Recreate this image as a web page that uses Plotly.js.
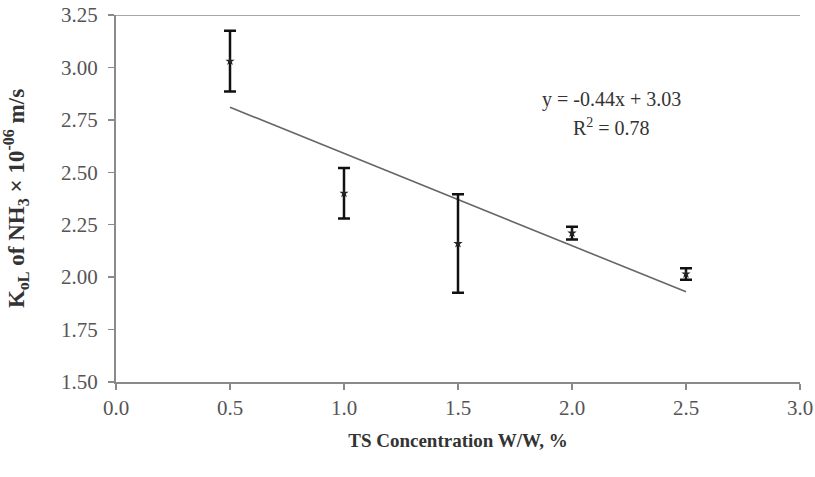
<!DOCTYPE html>
<html>
<head>
<meta charset="utf-8">
<script src="https://cdn.plot.ly/plotly-3.0.1.min.js"></script>
<style>
  html, body { margin: 0; padding: 0; background: #fff; }
  #chart { width: 815px; height: 477px; }
</style>
</head>
<body>
<div id="chart"></div>
<script>
// TS concentration (% W/W) and measured KoL of NH3 (x 10^-6 m/s)
const tsConcentration = [0.5, 1.0, 1.5, 2.0, 2.5];
const kolMean = [3.03, 2.40, 2.16, 2.21, 2.015];
const kolError = [0.145, 0.12, 0.235, 0.03, 0.028];

// Linear fit shown on the chart
const fitSlope = -0.44;
const fitIntercept = 3.03;
const fitR2 = 0.78;
const fitRange = [0.5, 2.5];

const xTicks = [0, 0.5, 1.0, 1.5, 2.0, 2.5, 3.0];
const yTicks = [1.5, 1.75, 2.0, 2.25, 2.5, 2.75, 3.0, 3.25];

const serif = 'Liberation Serif, Times New Roman, serif';

const measured = {
  x: tsConcentration,
  y: kolMean,
  type: 'scatter',
  mode: 'markers',
  marker: { symbol: 'star', size: 7, color: '#222' },
  error_y: { type: 'data', array: kolError, visible: true, color: '#111', thickness: 2.5, width: 6 },
  showlegend: false,
  hoverinfo: 'x+y'
};

const trend = {
  x: fitRange,
  y: fitRange.map(v => fitSlope * v + fitIntercept),
  type: 'scatter',
  mode: 'lines',
  line: { color: '#666', width: 1.6 },
  showlegend: false,
  hoverinfo: 'skip'
};

const layout = {
  width: 815,
  height: 477,
  margin: { l: 116, r: 15, t: 15, b: 95 },
  paper_bgcolor: '#fff',
  plot_bgcolor: '#fff',
  font: { family: serif, color: '#333', size: 20 },
  xaxis: {
    range: [0, 3],
    tickvals: xTicks,
    tickformat: '.1f',
    showgrid: false,
    zeroline: false,
    showline: true,
    linecolor: '#8a8a8a',
    linewidth: 2,
    ticks: 'outside',
    ticklen: 6,
    tickcolor: '#8a8a8a',
    tickwidth: 1.5,
    tickfont: { family: serif, size: 21, color: '#555' },
    title: {
      text: '<b>TS Concentration W/W, %</b>',
      font: { family: serif, size: 19, color: '#333' },
      standoff: 14
    }
  },
  yaxis: {
    range: [1.5, 3.25],
    tickvals: yTicks,
    tickformat: '.2f',
    showgrid: false,
    zeroline: false,
    showline: true,
    linecolor: '#8a8a8a',
    linewidth: 2,
    ticks: 'outside',
    ticklen: 6,
    tickcolor: '#8a8a8a',
    tickwidth: 1.5,
    ticklabelstandoff: 6,
    tickfont: { family: serif, size: 21, color: '#555' },
    title: {
      text: '<b>K<sub>oL</sub> of NH<sub>3</sub> × 10<sup>-06</sup> m/s</b>',
      font: { family: serif, size: 23, color: '#333' },
      standoff: 30
    }
  },
  shapes: [
    { type: 'line', xref: 'paper', yref: 'y', x0: -0.009, x1: 1, y0: 3.25, y1: 3.25,
      line: { color: '#8a8a8a', width: 1.5 } }
  ],
  annotations: [
    { xref: 'x', yref: 'y', x: 2.175, y: 2.845, showarrow: false,
      text: 'y = ' + fitSlope.toFixed(2) + 'x + ' + fitIntercept.toFixed(2),
      font: { family: serif, size: 20, color: '#333' } },
    { xref: 'x', yref: 'y', x: 2.175, y: 2.715, showarrow: false,
      text: 'R<sup>2</sup> = ' + fitR2.toFixed(2),
      font: { family: serif, size: 20, color: '#333' } }
  ]
};

Plotly.newPlot('chart', [trend, measured], layout, { displayModeBar: false, staticPlot: true });
</script>
</body>
</html>
